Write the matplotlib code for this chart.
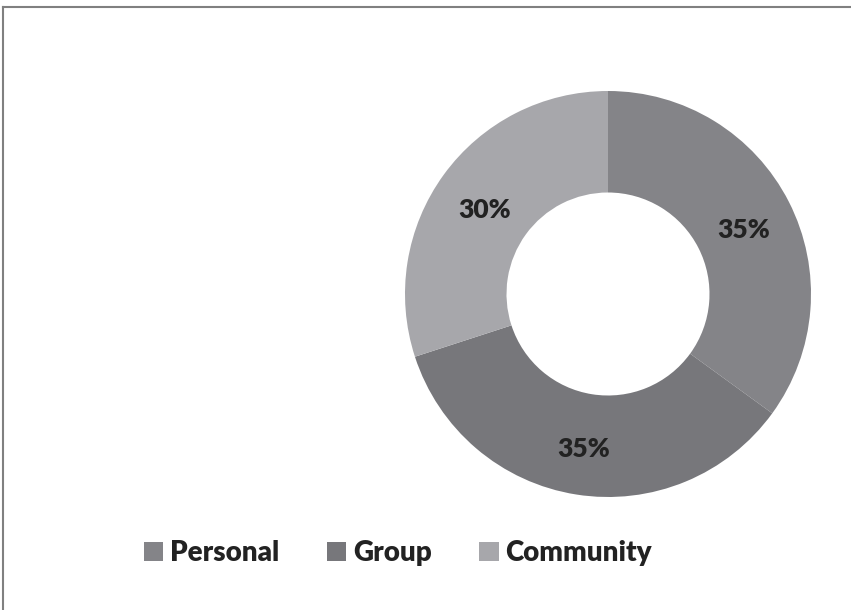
import matplotlib.pyplot as plt
from matplotlib.lines import Line2D
from matplotlib.transforms import offset_copy

labels = ['Personal', 'Group', 'Community']
shares = [35, 35, 30]
colors = ['#848488', '#77777b', '#a7a7ab']

plt.rcParams['font.family'] = ['Lato', 'DejaVu Sans']

W, H = 851, 610
fig = plt.figure(figsize=(W / 100, H / 100), dpi=100)

# donut centred at (608, 294) px with outer radius ~203 px
cx, cy, r = 608, 294, 203
ax = fig.add_axes([(cx - r) / W, (H - cy - r) / H, 2 * r / W, 2 * r / H])
wedges, texts, autotexts = ax.pie(
    shares, colors=colors, startangle=90, counterclock=False,
    radius=1.0, wedgeprops=dict(width=0.5, edgecolor='none'),
    autopct='%d%%', pctdistance=0.75,
    textprops=dict(fontsize=19, fontweight='heavy', color='#222222'))
# nudge the percentage labels down a little
for t in autotexts:
    t.set_transform(offset_copy(ax.transData, fig=fig, x=0, y=-5, units='dots'))
ax.set_xlim(-1, 1)
ax.set_ylim(-1, 1)
ax.set_aspect('equal')
ax.axis('off')

fig.legend(wedges, labels, loc='center', bbox_to_anchor=(398 / W, 1 - 553 / H),
           ncol=3, frameon=False, prop=dict(size=20, weight='heavy'),
           handlelength=0.7, handleheight=0.7, handletextpad=0.25,
           columnspacing=1.7, labelcolor='#222222')

# thin border along the top and left edges
fig.add_artist(Line2D([3 / W, 1], [1 - 7 / H, 1 - 7 / H], color='#808080', lw=1.5,
                      transform=fig.transFigure))
fig.add_artist(Line2D([3 / W, 3 / W], [0, 1 - 7 / H], color='#808080', lw=1.5,
                      transform=fig.transFigure))

fig.savefig('out.png', dpi=100, facecolor='white')
